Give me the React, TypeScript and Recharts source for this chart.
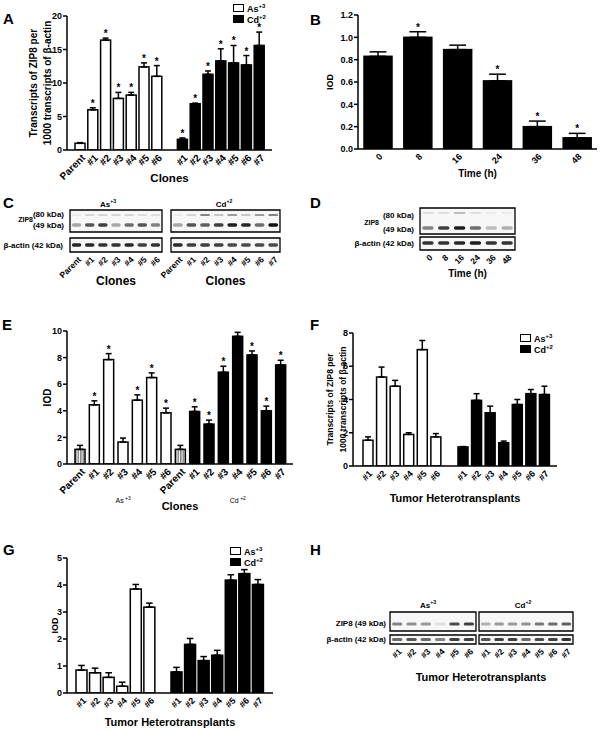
import React from 'react';
import { ComposedChart, Bar, XAxis, YAxis, ErrorBar, ScatterChart, Scatter, ReferenceArea } from 'recharts';

const FONT = '"Liberation Sans", Arial, Helvetica, sans-serif';

// ---- panel A: ZIP8 transcripts in clones ----
const clonesAs = ['Parent', '#1', '#2', '#3', '#4', '#5', '#6'];
const clonesCd = ['#1', '#2', '#3', '#4', '#5', '#6', '#7'];
const aAsMean = [1.0, 6.0, 16.4, 7.7, 8.2, 12.4, 11.0];
const aAsSem = [0.1, 0.3, 0.3, 0.9, 0.4, 0.6, 1.6];
const aAsStar = [false, true, true, true, true, true, true];
const aCdMean = [1.6, 6.9, 11.3, 13.3, 13.0, 12.7, 15.6];
const aCdSem = [0.2, 0.1, 0.5, 1.8, 2.6, 1.4, 2.0];
const aCdStar = [true, true, true, true, true, true, true];
const aTicks = [0, 5, 10, 15, 20];

// ---- panel B: time course ----
const hours = ['0', '8', '16', '24', '36', '48'];
const bMean = [0.83, 1.0, 0.89, 0.61, 0.2, 0.1];
const bSem = [0.04, 0.05, 0.04, 0.06, 0.05, 0.04];
const bStar = [false, true, false, true, true, true];
const bTicks = [0, 0.2, 0.4, 0.6, 0.8, 1.0, 1.2];

// ---- panel C / D / H: western blot band intensities (0..1) ----
const cLanesAs = ['Parent', '#1', '#2', '#3', '#4', '#5', '#6'];
const cLanesCd = ['Parent', '#1', '#2', '#3', '#4', '#5', '#6', '#7'];
const cAs80 = [0.05, 0.15, 0.15, 0.15, 0.15, 0.1, 0.1];
const cAs49 = [0.35, 0.7, 0.8, 0.35, 0.6, 0.7, 0.5];
const cAsActin = [0.9, 0.9, 0.85, 0.85, 0.9, 0.8, 0.85];
const cCd80 = [0.05, 0.15, 0.5, 0.2, 0.4, 0.2, 0.4, 0.5];
const cCd49 = [0.35, 0.7, 0.65, 0.8, 0.95, 0.9, 0.6, 1.0];
const cCdActin = [0.9, 0.8, 0.8, 0.8, 0.75, 0.75, 0.75, 0.75];
const d80 = [0.1, 0.1, 0.25, 0.1, 0.05, 0.05];
const d49 = [0.5, 0.8, 0.95, 0.6, 0.25, 0.3];
const dActin = [0.85, 0.85, 0.9, 0.95, 0.85, 0.85];
const tumorsAs = ['#1', '#2', '#3', '#4', '#5', '#6'];
const tumorsCd = ['#1', '#2', '#3', '#4', '#5', '#6', '#7'];
const hAs49 = [0.5, 0.45, 0.4, 0.1, 0.75, 0.8];
const hAsActin = [0.6, 0.7, 0.6, 0.5, 0.8, 0.8];
const hCd49 = [0.3, 0.4, 0.4, 0.45, 0.55, 0.6, 0.65];
const hCdActin = [0.7, 0.8, 0.8, 0.6, 0.75, 0.8, 0.85];

// ---- panel E: IOD in clones ----
const eLanesAs = ['Parent', '#1', '#2', '#3', '#4', '#5', '#6'];
const eLanesCd = ['Parent', '#1', '#2', '#3', '#4', '#5', '#6', '#7'];
const eAsMean = [1.1, 4.45, 7.85, 1.65, 4.8, 6.5, 3.85];
const eAsSem = [0.3, 0.3, 0.45, 0.3, 0.4, 0.35, 0.35];
const eAsStar = [false, true, true, false, true, true, true];
const eCdMean = [1.1, 3.95, 3.0, 6.9, 9.6, 8.2, 4.0, 7.45];
const eCdSem = [0.3, 0.35, 0.3, 0.45, 0.3, 0.3, 0.35, 0.35];
const eCdStar = [false, true, true, true, true, true, true, true];
const eTicks = [0, 2, 4, 6, 8, 10];

// ---- panel F: transcripts in tumor heterotransplants ----
const fAsMean = [1.55, 5.35, 4.8, 1.9, 7.0, 1.75];
const fAsSem = [0.2, 0.6, 0.35, 0.1, 0.55, 0.2];
const fCdMean = [1.15, 3.95, 3.2, 1.4, 3.7, 4.35, 4.3];
const fCdSem = [0.02, 0.4, 0.4, 0.1, 0.3, 0.25, 0.5];
const fTicks = [0, 2, 4, 6, 8];

// ---- panel G: IOD in tumor heterotransplants ----
const gAsMean = [0.85, 0.75, 0.58, 0.25, 3.85, 3.18];
const gAsSem = [0.17, 0.17, 0.17, 0.15, 0.17, 0.15];
const gCdMean = [0.78, 1.8, 1.2, 1.4, 4.18, 4.42, 4.02];
const gCdSem = [0.17, 0.22, 0.15, 0.18, 0.2, 0.15, 0.18];
const gTicks = [0, 1, 2, 3, 4, 5];

const legendItems = [
  { name: 'As', sup: '+3', fill: '#fff' },
  { name: 'Cd', sup: '+2', fill: '#000' },
];

type Row = { label: string; grp: string; v: number | null; err: [number, number] | null; star: boolean; fill: string };

function groupRows(labels: string[], mean: number[], sem: number[], star: boolean[] | null, fill: string, grpAt = -1, grp = ''): Row[] {
  return labels.map((label, i) => ({
    label,
    grp: i === grpAt ? grp : '',
    v: mean[i],
    err: [0, sem[i]],
    star: star ? star[i] : false,
    fill,
  }));
}
const gapRow: Row = { label: '', grp: '', v: null, err: null, star: false, fill: 'none' };

const aRows = [...groupRows(clonesAs, aAsMean, aAsSem, aAsStar, '#fff'), gapRow, ...groupRows(clonesCd, aCdMean, aCdSem, aCdStar, '#000')];
const bRows = groupRows(hours, bMean, bSem, bStar, '#000');
const eRows = [
  ...groupRows(eLanesAs, eAsMean, eAsSem, eAsStar, '#fff', 3, 'As|+3'),
  ...groupRows(eLanesCd, eCdMean, eCdSem, eCdStar, '#000', 4, 'Cd|+2'),
].map((r) => (r.label === 'Parent' ? { ...r, fill: 'url(#hatch)' } : r));
const fRows = [...groupRows(tumorsAs, fAsMean, fAsSem, null, '#fff'), gapRow, ...groupRows(tumorsCd, fCdMean, fCdSem, null, '#000')];
const gRows = [...groupRows(tumorsAs, gAsMean, gAsSem, null, '#fff'), gapRow, ...groupRows(tumorsCd, gCdMean, gCdSem, null, '#000')];

const txt = { fontFamily: FONT, fontWeight: 700, fill: '#000' } as const;
const AXIS = { stroke: '#000', strokeWidth: 1.5 };

const RotTick = (props: any) => {
  const { x, y, payload, fontSize = 9 } = props;
  if (!payload || payload.value == null || payload.value === '') return null;
  return (
    <g transform={`translate(${x + 3},${y - 2}) rotate(-45)`}>
      <text {...txt} fontSize={fontSize} textAnchor="end" dominantBaseline="central">{payload.value}</text>
    </g>
  );
};

const GroupTick = (props: any) => {
  const { x, y, payload } = props;
  if (!payload || !payload.value) return null;
  const [name, sup] = String(payload.value).split('|');
  return (
    <text x={x} y={y + 5} textAnchor="middle" fontFamily={FONT} fontSize={7} fill="#000">
      {name}
      <tspan dy={-3} fontSize={5}> {sup}</tspan>
    </text>
  );
};

const barShape = (p: any) => {
  const r: Row = p.payload;
  if (!r || r.v == null) return <g />;
  const h = Math.abs(p.height);
  const ppu = h / r.v;
  const errTop = p.y - (r.err ? r.err[1] : 0) * ppu;
  return (
    <g>
      <rect x={p.x} y={p.y} width={p.width} height={h} fill={r.fill} stroke="#000" strokeWidth={1.5} />
      {r.star && (
        <text {...txt} x={p.x + p.width / 2} y={errTop - 1} fontSize={10} textAnchor="middle">*</text>
      )}
    </g>
  );
};

// rotated axis title; x is the baseline of the first line inside the chart, lh the line spacing
const yTitle = (lines: string[], x: number, fontSize: number, lh: number) => (p: any) => {
  const vb = p.viewBox || {};
  const cy = vb.y + vb.height / 2;
  return (
    <text transform={`rotate(-90 ${x} ${cy})`} x={x} y={cy} textAnchor="middle" {...txt} fontSize={fontSize}>
      {lines.map((l, i) => (
        <tspan key={i} x={x} dy={i === 0 ? 0 : lh}>{l}</tspan>
      ))}
    </text>
  );
};

const xTitle = (title: string, dy: number, fontSize = 11) => (p: any) => {
  const vb = p.viewBox || {};
  return (
    <text x={vb.x + vb.width / 2} y={vb.y + dy} textAnchor="middle" {...txt} fontSize={fontSize}>{title}</text>
  );
};

type BarPanelProps = {
  left: number; top: number; width: number; height: number;
  plotTop: number; plotRight: number; yAxisWidth: number;
  rows: Row[]; domain: [number, number]; ticks: number[]; fmt?: (v: number) => string;
  barSize: number; pad: { left: number; right: number }; tickFont: number;
  yLines: string[]; yX: number; yFont: number; yLh?: number;
  title: string; titleDy: number; titleFont?: number; groupAxis?: boolean; tickAxisHeight: number;
};

const BarPanel = (p: BarPanelProps) => (
  <div style={{ position: 'absolute', left: p.left, top: p.top }}>
    <ComposedChart
      width={p.width}
      height={p.height}
      data={p.rows}
      margin={{ top: p.plotTop, right: p.plotRight, left: 0, bottom: 0 }}
      barCategoryGap={0}
    >
      <YAxis
        domain={p.domain}
        ticks={p.ticks}
        width={p.yAxisWidth}
        axisLine={AXIS}
        tickLine={AXIS}
        tickSize={4}
        tickMargin={1}
        tick={{ ...txt, fontSize: 9 }}
        tickFormatter={p.fmt}
        interval={0}
        allowDataOverflow
        label={{ content: yTitle(p.yLines, p.yX, p.yFont, p.yLh || 14) } as any}
      />
      <XAxis
        dataKey="label"
        xAxisId={0}
        axisLine={AXIS}
        tickLine={false}
        interval={0}
        padding={p.pad}
        height={p.tickAxisHeight}
        tick={<RotTick fontSize={p.tickFont} />}
        label={p.groupAxis ? undefined : ({ content: xTitle(p.title, p.titleDy, p.titleFont) } as any)}
      />
      {p.groupAxis && (
        <XAxis
          dataKey="grp"
          xAxisId={1}
          axisLine={false}
          tickLine={false}
          interval={0}
          padding={p.pad}
          height={30}
          tick={<GroupTick />}
          label={{ content: xTitle(p.title, p.titleDy, p.titleFont) } as any}
        />
      )}
      <Bar dataKey="v" xAxisId={0} barSize={p.barSize} shape={barShape} isAnimationActive={false}>
        <ErrorBar dataKey="err" width={p.barSize * 0.3} stroke="#000" strokeWidth={1.5} direction="y" />
      </Bar>
    </ComposedChart>
  </div>
);

type BandDef = { y: number; values: number[]; h: number };
type SideLabel = { y: number; text: string; dx: number; size: number };

type BlotProps = {
  left: number; top: number; width: number; height: number;
  plotTop: number; plotLeft: number; plotRight: number; plotHeight: number;
  lanes: string[]; boxes: [number, number][]; bands: BandDef[];
  side?: SideLabel[]; title?: string; titleDy?: number; titleSize?: number;
};

const Blot = (p: BlotProps) => {
  const n = p.lanes.length;
  const plotW = p.width - p.plotLeft - p.plotRight;
  const bandW = (plotW / n) * 0.72;
  const sideW = p.side ? p.plotLeft : 0;
  const sideTick = (t: any) => {
    const s = p.side?.find((l) => Math.abs(l.y - t.payload.value) < 0.01);
    if (!s) return null;
    return (
      <text x={t.x - 3 - s.dx} y={t.y} textAnchor="end" dominantBaseline="central" {...txt} fontSize={s.size}>
        {s.text}
      </text>
    );
  };
  const laneTick = (t: any) => <RotTick x={t.x} y={t.y} fontSize={8.5} payload={{ value: p.lanes[t.payload.value] }} />;
  return (
    <div style={{ position: 'absolute', left: p.left, top: p.top }}>
      <ScatterChart
        width={p.width}
        height={p.height}
        margin={{ top: p.plotTop, right: p.plotRight, left: p.side ? 0 : p.plotLeft, bottom: 0 }}
      >
        <XAxis
          type="number"
          dataKey="x"
          domain={[-0.5, n - 0.5]}
          ticks={p.lanes.map((_, i) => i)}
          interval={0}
          axisLine={false}
          tickLine={false}
          allowDataOverflow
          height={p.height - p.plotTop - p.plotHeight}
          tick={laneTick}
          label={p.title ? ({ content: xTitle(p.title, p.titleDy || 30, p.titleSize || 11) } as any) : undefined}
        />
        <YAxis
          type="number"
          dataKey="y"
          domain={[0, p.plotHeight]}
          hide={!p.side}
          width={sideW}
          ticks={p.side ? p.side.map((s) => s.y) : undefined}
          axisLine={false}
          tickLine={false}
          tickSize={0}
          tickMargin={0}
          interval={0}
          allowDataOverflow
          tick={sideTick}
        />
        {p.boxes.map(([y1, y2], i) => (
          <ReferenceArea key={i} x1={-0.5} x2={n - 0.5} y1={y1} y2={y2} stroke="#000" strokeWidth={1.3} fill="#f7f7f7" fillOpacity={1} />
        ))}
        {p.bands.map((b, bi) => (
          <Scatter
            key={bi}
            data={b.values.map((v, i) => ({ x: i, y: b.y, v }))}
            isAnimationActive={false}
            shape={(s: any) => (
              <rect x={s.cx - bandW / 2} y={s.cy - b.h / 2} width={bandW} height={b.h} rx={b.h / 2} fill="#111" fillOpacity={s.payload.v} />
            )}
          />
        ))}
      </ScatterChart>
    </div>
  );
};

const Legend = ({ left, top }: { left: number; top: number }) => (
  <div style={{ position: 'absolute', left, top, fontFamily: FONT, fontWeight: 700, fontSize: 9, lineHeight: '11px' }}>
    {legendItems.map((it) => (
      <div key={it.name} style={{ display: 'flex', alignItems: 'center', height: 11 }}>
        <span style={{ display: 'inline-block', width: 9, height: 6, border: '1.5px solid #000', background: it.fill, marginRight: 3 }} />
        <span>{it.name}<sup style={{ fontSize: 6 }}>{it.sup}</sup></span>
      </div>
    ))}
  </div>
);

const Letter = ({ ch, left, top }: { ch: string; left: number; top: number }) => (
  <div style={{ position: 'absolute', left, top, fontFamily: FONT, fontWeight: 700, fontSize: 15, lineHeight: '15px' }}>{ch}</div>
);

const Head = ({ name, sup, left, top, size = 8 }: { name: string; sup: string; left: number; top: number; size?: number }) => (
  <div style={{ position: 'absolute', left, top, transform: 'translateX(-50%)', fontFamily: FONT, fontWeight: 700, fontSize: size, lineHeight: '10px', whiteSpace: 'nowrap' }}>
    {name}<sup style={{ fontSize: size * 0.65 }}>{sup}</sup>
  </div>
);

export default function App() {
  return (
    <div style={{ position: 'absolute', left: 0, top: 0, width: 600, height: 732, background: '#fff', overflow: 'hidden' }}>
      <svg width={0} height={0} style={{ position: 'absolute' }}>
        <defs>
          <pattern id="hatch" patternUnits="userSpaceOnUse" width={2.5} height={4}>
            <rect width={2.5} height={4} fill="#fff" />
            <line x1={0.8} y1={0} x2={0.8} y2={4} stroke="#444" strokeWidth={1} />
          </pattern>
        </defs>
      </svg>

      <Letter ch="A" left={3} top={11} />
      <BarPanel left={0} top={0} width={300} height={192} plotTop={16} plotRight={28} yAxisWidth={67}
        rows={aRows} domain={[0, 20]} ticks={aTicks} barSize={10} pad={{ left: 7, right: 6 }} tickFont={10}
        yLines={['Transcripts of ZIP8 per', '1000 transcripts of β-actin']} yX={36.5} yFont={10} yLh={14}
        title="Clones" titleDy={32} titleFont={11.5} tickAxisHeight={42} />
      <Legend left={233} top={2} />

      <Letter ch="B" left={310} top={12} />
      <BarPanel left={300} top={0} width={300} height={192} plotTop={15} plotRight={3} yAxisWidth={58}
        rows={bRows} domain={[0, 1.2]} ticks={bTicks} fmt={(v) => v.toFixed(1)} barSize={28} pad={{ left: 0, right: 0 }} tickFont={9}
        yLines={['IOD']} yX={33} yFont={9}
        title="Time (h)" titleDy={28} titleFont={10} tickAxisHeight={43} />

      <Letter ch="C" left={3} top={195} />
      <Head name="As" sup="+3" left={108} top={196} />
      <Head name="Cd" sup="+2" left={224} top={196} />
      <Blot left={0} top={195} width={170} height={100} plotTop={15} plotLeft={70} plotRight={8} plotHeight={42}
        lanes={cLanesAs} boxes={[[20, 42], [0, 14]]}
        bands={[{ y: 37, values: cAs80, h: 2 }, { y: 27, values: cAs49, h: 3.5 }, { y: 7, values: cAsActin, h: 3.5 }]}
        side={[
          { y: 38, text: '(80 kDa)', dx: 3, size: 8 },
          { y: 32.5, text: 'ZIP8', dx: 34, size: 7 },
          { y: 27, text: '(49 kDa)', dx: 3, size: 8 },
          { y: 7, text: 'β-actin (42 kDa)', dx: 4, size: 8 },
        ]}
        title="Clones" titleDy={33} titleSize={12} />
      <Blot left={135} top={195} width={160} height={100} plotTop={15} plotLeft={36} plotRight={15} plotHeight={42}
        lanes={cLanesCd} boxes={[[20, 42], [0, 14]]}
        bands={[{ y: 37, values: cCd80, h: 2 }, { y: 27, values: cCd49, h: 3.5 }, { y: 7, values: cCdActin, h: 3.5 }]}
        title="Clones" titleDy={33} titleSize={12} />

      <Letter ch="D" left={310} top={195} />
      <Blot left={300} top={195} width={300} height={100} plotTop={13} plotLeft={120} plotRight={85} plotHeight={42}
        lanes={hours} boxes={[[16, 42], [0, 13]]}
        bands={[{ y: 37, values: d80, h: 2 }, { y: 22, values: d49, h: 3.5 }, { y: 7, values: dActin, h: 3.5 }]}
        side={[
          { y: 35, text: '(80 kDa)', dx: 3, size: 8 },
          { y: 28, text: 'ZIP8', dx: 38, size: 7 },
          { y: 21, text: '(49 kDa)', dx: 3, size: 8 },
          { y: 7, text: 'β-actin (42 kDa)', dx: 3, size: 8 },
        ]}
        title="Time (h)" titleDy={27} titleSize={10} />

      <Letter ch="E" left={2} top={317} />
      <BarPanel left={0} top={310} width={300} height={210} plotTop={21} plotRight={7} yAxisWidth={67}
        rows={eRows} domain={[0, 10]} ticks={eTicks} barSize={10} pad={{ left: 6, right: 5 }} tickFont={10}
        yLines={['IOD']} yX={50.5} yFont={10}
        title="Clones" titleDy={20} titleFont={11} groupAxis tickAxisHeight={26} />

      <Letter ch="F" left={310} top={317} />
      <BarPanel left={300} top={310} width={300} height={210} plotTop={23} plotRight={43} yAxisWidth={53}
        rows={fRows} domain={[0, 8]} ticks={fTicks} barSize={10} pad={{ left: 8, right: 6 }} tickFont={9}
        yLines={['Transcripts of ZIP8 per', '1000 transcripts of β-actin']} yX={33} yFont={8.5} yLh={13}
        title="Tumor Heterotransplants" titleDy={36} titleFont={11} tickAxisHeight={54} />
      <Legend left={520} top={332} />

      <Letter ch="G" left={3} top={542} />
      <BarPanel left={0} top={530} width={300} height={202} plotTop={28} plotRight={27} yAxisWidth={67}
        rows={gRows} domain={[0, 5]} ticks={gTicks} barSize={11} pad={{ left: 8, right: 8 }} tickFont={9}
        yLines={['IOD']} yX={58} yFont={9}
        title="Tumor Heterotransplants" titleDy={33} titleFont={11} tickAxisHeight={39} />
      <Legend left={230} top={545} />

      <Letter ch="H" left={310} top={542} />
      <Head name="As" sup="+3" left={428} top={597} />
      <Head name="Cd" sup="+2" left={523} top={597} />
      <Blot left={300} top={590} width={180} height={100} plotTop={22} plotLeft={90} plotRight={4} plotHeight={32}
        lanes={tumorsAs} boxes={[[13, 32], [0, 9]]}
        bands={[{ y: 20, values: hAs49, h: 3 }, { y: 4.5, values: hAsActin, h: 3 }]}
        side={[
          { y: 21, text: 'ZIP8 (49 kDa)', dx: 1, size: 8 },
          { y: 4.5, text: 'β-actin (42 kDa)', dx: 1, size: 8 },
        ]} />
      <Blot left={475} top={590} width={110} height={100} plotTop={22} plotLeft={4} plotRight={12} plotHeight={32}
        lanes={tumorsCd} boxes={[[13, 32], [0, 9]]}
        bands={[{ y: 20, values: hCd49, h: 3 }, { y: 4.5, values: hCdActin, h: 3 }]} />
      <div style={{ position: 'absolute', left: 481, top: 671, transform: 'translateX(-50%)', fontFamily: FONT, fontWeight: 700, fontSize: 11, whiteSpace: 'nowrap' }}>
        Tumor Heterotransplants
      </div>
    </div>
  );
}
